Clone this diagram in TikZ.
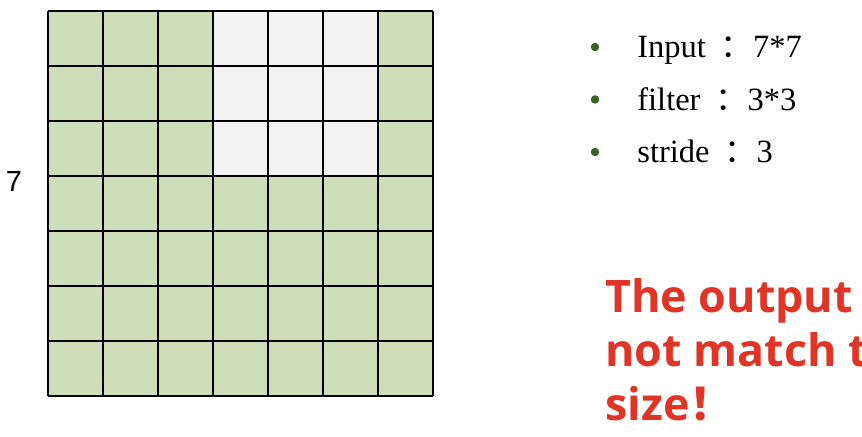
\documentclass[tikz,border=0pt]{standalone}
\usepackage{fontspec}
\setmainfont{Liberation Serif}
\newfontfamily\cjk{Noto Sans CJK SC}
\newfontfamily\warnfont{Open Sans}
\newfontfamily\sidefont{Liberation Sans}
\usepackage{tikz}
\usetikzlibrary{positioning}
\definecolor{cellgreen}{RGB}{205,222,184}
\definecolor{cellwhite}{RGB}{242,242,242}
\definecolor{dotgreen}{RGB}{56,99,35}
\definecolor{warnred}{RGB}{224,52,38}
\newcommand{\sepcolon}{\hspace{0.45em}{\cjk ：}}

\begin{document}
\begin{tikzpicture}[
  item/.style={anchor=base west, inner sep=0pt, font=\fontsize{18.5}{22}\selectfont},
  dot/.style={circle, fill=dotgreen, inner sep=0pt, minimum size=0.17cm},
  warn/.style={anchor=base west, inner sep=0pt, text=warnred, font=\warnfont\bfseries\fontsize{25.5}{30}\selectfont}]
\useasboundingbox (0,0) rectangle (17.24,8.72);
\begin{scope}[shift={(0.96,0.8)}, x=1.1cm, y=1.1cm]
\fill[cellgreen] (0,0) rectangle (7,7);
\fill[cellwhite] (3,4) rectangle (6,7);
\foreach \i in {0,...,7}
{
  \draw[line width=0.85pt] (\i,0) -- (\i,7);
  \draw[line width=0.85pt] (0,\i) -- (7,\i);
}
\end{scope}
\node[font=\sidefont\fontsize{16.5}{20}\selectfont] (side) at (0.28,5.08) {7};
\foreach \k/\txt in {1/Input\sepcolon 7*7,2/filter\sepcolon 3*3,3/stride\sepcolon 3}
{
  \node[item] (t\k) at (12.74,{7.56-1.05*(\k-1)}) {\txt};
  \node[dot] (b\k) at (11.9,{7.78-1.05*(\k-1)}) {};
}
\node[warn] (w1) at (12.1,2.46) {The output};
\node[warn] (w2) at (12.1,1.38) {not match t};
\node[warn] (w3) at (12.1,0.32) {size{\cjk\bfseries ！}};
\end{tikzpicture}
\end{document}
